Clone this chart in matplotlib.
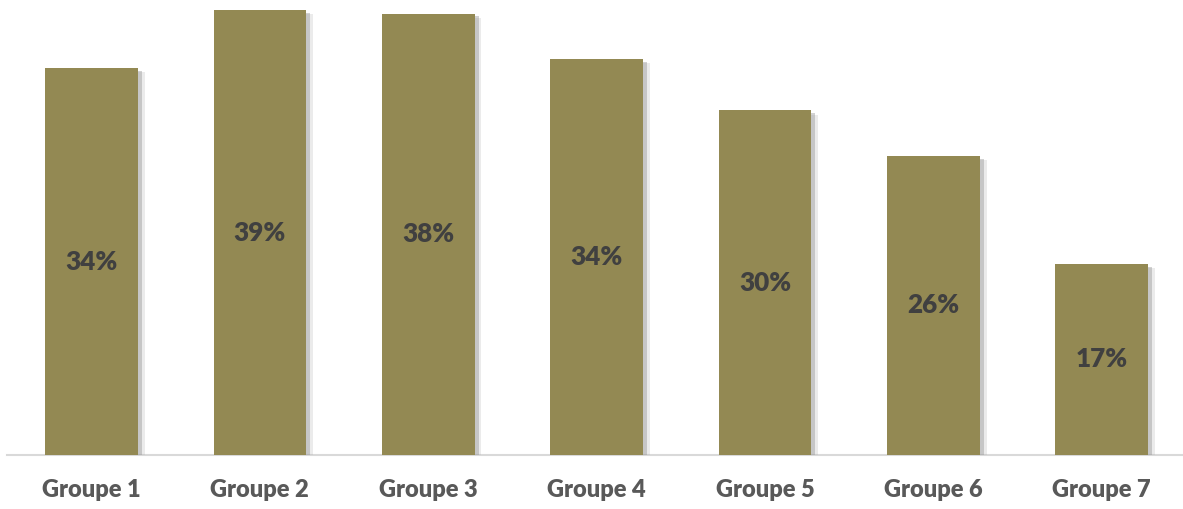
import matplotlib
matplotlib.use("Agg")
import matplotlib.pyplot as plt
import matplotlib.patheffects as pe

categories = ["Groupe 1", "Groupe 2", "Groupe 3", "Groupe 4", "Groupe 5", "Groupe 6", "Groupe 7"]
values = [34.0, 39.1, 38.8, 34.8, 30.3, 26.3, 16.8]
labels = ["34%", "39%", "38%", "34%", "30%", "26%", "17%"]

W, H = 1183, 509
fig = plt.figure(figsize=(W / 100, H / 100), dpi=100)
ax = fig.add_axes([7.25 / W, (H - 455) / H, (1186 - 7.25) / W, 455 / H])

bars = ax.bar(range(len(categories)), values, width=0.55, color="#938953", zorder=3)
for b in bars:
    b.set_path_effects([
        pe.SimplePatchShadow(offset=(5, -3), shadow_rgbFace="#b0b0b0", alpha=0.25),
        pe.SimplePatchShadow(offset=(3, -2), shadow_rgbFace="#909090", alpha=0.4),
        pe.Normal()])

for i, (v, lab) in enumerate(zip(values, labels)):
    ax.text(i, v / 2, lab, ha="center", va="center", fontsize=18.8, fontweight="heavy",
            color="#404040", family="Lato", zorder=4)

ax.set_xlim(-0.5, len(categories) - 0.5)
ax.set_ylim(0, 40)
ax.set_yticks([])
ax.set_xticks(range(len(categories)))
ax.set_xticklabels(categories, fontsize=17, fontweight="heavy", color="#595959", family="Lato")
ax.tick_params(axis="x", length=0, pad=17)
for s in ["top", "right", "left"]:
    ax.spines[s].set_visible(False)
ax.spines["bottom"].set_color("#d9d9d9")
ax.spines["bottom"].set_linewidth(1.5)

fig.savefig("out.png", dpi=100)
